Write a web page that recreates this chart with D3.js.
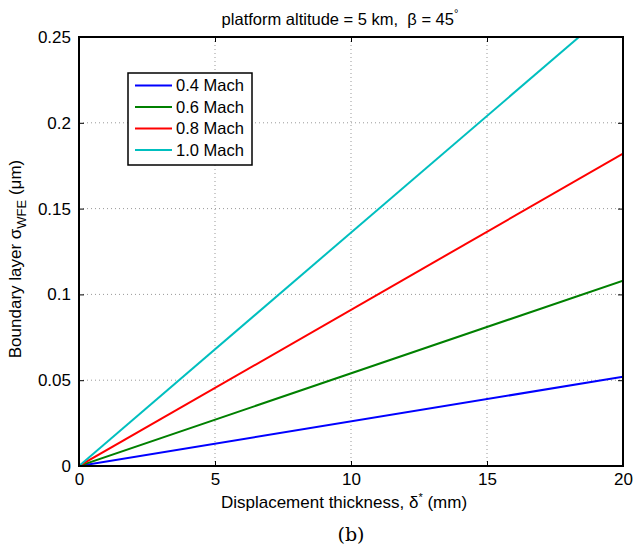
<!DOCTYPE html>
<html>
<head>
<meta charset="utf-8">
<script src="https://cdn.jsdelivr.net/npm/d3@7"></script>
<style>
  body { margin: 0; background: #fff; }
  text { font-family: "Liberation Sans", Arial, sans-serif; fill: #000; }
</style>
</head>
<body>
<div id="chart"></div>
<script>
// displacement thickness (mm) at the two ends of each line
const thickness = [0, 20];
const machLabels = ['0.4 Mach', '0.6 Mach', '0.8 Mach', '1.0 Mach'];
const mach04 = [0, 0.052];
const mach06 = [0, 0.108];
const mach08 = [0, 0.182];
const mach10 = [0, 0.272];
const seriesColors = ['#0000ff', '#008000', '#ff0000', '#00bfbf'];
const xTicks = [0, 5, 10, 15, 20];
const yTicks = [0, 0.05, 0.1, 0.15, 0.2, 0.25];

const width = 636, height = 549;
const margin = { top: 37, right: 13, bottom: 83, left: 79 };
const plotW = width - margin.left - margin.right;
const plotH = height - margin.top - margin.bottom;

const svg = d3.select('#chart').append('svg')
    .attr('width', width)
    .attr('height', height);

const x = d3.scaleLinear().domain([0, 20]).range([0, plotW]);
const y = d3.scaleLinear().domain([0, 0.25]).range([plotH, 0]);

const g = svg.append('g')
    .attr('transform', `translate(${margin.left},${margin.top})`);

svg.append('defs').append('clipPath').attr('id', 'clip')
    .append('rect').attr('width', plotW).attr('height', plotH);

// dotted grid
g.append('g').selectAll('line')
    .data(xTicks.slice(1, -1)).enter().append('line')
    .attr('x1', d => x(d)).attr('x2', d => x(d))
    .attr('y1', 0).attr('y2', plotH)
    .style('stroke', '#999').style('stroke-width', 1)
    .style('stroke-dasharray', '1,3');
g.append('g').selectAll('line')
    .data(yTicks.slice(1, -1)).enter().append('line')
    .attr('y1', d => y(d)).attr('y2', d => y(d))
    .attr('x1', 0).attr('x2', plotW)
    .style('stroke', '#999').style('stroke-width', 1)
    .style('stroke-dasharray', '1,3');

// data lines
const series = [mach04, mach06, mach08, mach10];
const line = d3.line().x((d, i) => x(thickness[i])).y(d => y(d));
g.append('g').attr('clip-path', 'url(#clip)')
    .selectAll('path').data(series).enter().append('path')
    .attr('d', d => line(d))
    .style('fill', 'none')
    .style('stroke', (d, i) => seriesColors[i])
    .style('stroke-width', 2);

// axes with inward ticks
const tickLen = 5;
const xAxis = g.append('g').attr('transform', `translate(0,${plotH})`)
    .call(d3.axisBottom(x).tickValues(xTicks).tickSizeInner(-tickLen).tickSizeOuter(0).tickPadding(7));
const xTop = g.append('g')
    .call(d3.axisTop(x).tickValues(xTicks).tickSizeInner(-tickLen).tickSizeOuter(0).tickFormat(''));
const yAxis = g.append('g')
    .call(d3.axisLeft(y).tickValues(yTicks).tickSizeInner(-tickLen).tickSizeOuter(0).tickPadding(8)
        .tickFormat(d => d3.format('')(+d.toFixed(2))));
const yRight = g.append('g').attr('transform', `translate(${plotW},0)`)
    .call(d3.axisRight(y).tickValues(yTicks).tickSizeInner(-tickLen).tickSizeOuter(0).tickFormat(''));

[xAxis, xTop, yAxis, yRight].forEach(a => {
    a.select('.domain').remove();
    a.selectAll('.tick line').style('stroke', '#000').style('stroke-width', 1);
    a.selectAll('text').style('font-size', '17px').style('font-family', '"Liberation Sans", Arial, sans-serif');
});

// box
g.append('rect')
    .attr('width', plotW).attr('height', plotH)
    .style('fill', 'none').style('stroke', '#000').style('stroke-width', 2);

// legend
const legend = g.append('g').attr('transform', `translate(${128 - margin.left},${73 - margin.top})`);
legend.append('rect')
    .attr('width', 124).attr('height', 92)
    .style('fill', '#fff').style('stroke', '#000').style('stroke-width', 1.5);
const items = legend.selectAll('g.item').data(machLabels).enter().append('g')
    .attr('transform', (d, i) => `translate(0,${12.5 + i * 21.5})`);
items.append('line')
    .attr('x1', 7).attr('x2', 44)
    .style('stroke', (d, i) => seriesColors[i]).style('stroke-width', 2);
items.append('text')
    .attr('x', 48).attr('dy', '0.35em')
    .style('font-size', '16.5px')
    .text(d => d);

// title
const title = svg.append('text')
    .attr('x', 340).attr('y', 25)
    .attr('text-anchor', 'middle')
    .style('font-size', '16.5px');
title.append('tspan').text('platform altitude = 5 km,\u00a0 β = 45');
title.append('tspan').attr('dy', -8).style('font-size', '11px').text('°');

// x label
const xl = svg.append('text')
    .attr('x', 344).attr('y', 508)
    .attr('text-anchor', 'middle')
    .style('font-size', '17px');
xl.append('tspan').text('Displacement thickness, δ');
xl.append('tspan').attr('dy', -7).style('font-size', '11px').text('*');
xl.append('tspan').attr('dy', 7).text(' (mm)');

// y label
const yl = svg.append('text')
    .attr('transform', `translate(21,259) rotate(-90)`)
    .attr('text-anchor', 'middle')
    .style('font-size', '17px');
yl.append('tspan').text('Boundary layer σ');
yl.append('tspan').attr('dy', 5).style('font-size', '13px').text('WFE');
yl.append('tspan').attr('dy', -5).text(' (μm)');

// caption
svg.append('text')
    .attr('x', margin.left + plotW / 2).attr('y', 541)
    .attr('text-anchor', 'middle')
    .style('font-family', '"DejaVu Serif", "Liberation Serif", serif')
    .style('font-size', '19px')
    .text('(b)');
</script>
</body>
</html>
